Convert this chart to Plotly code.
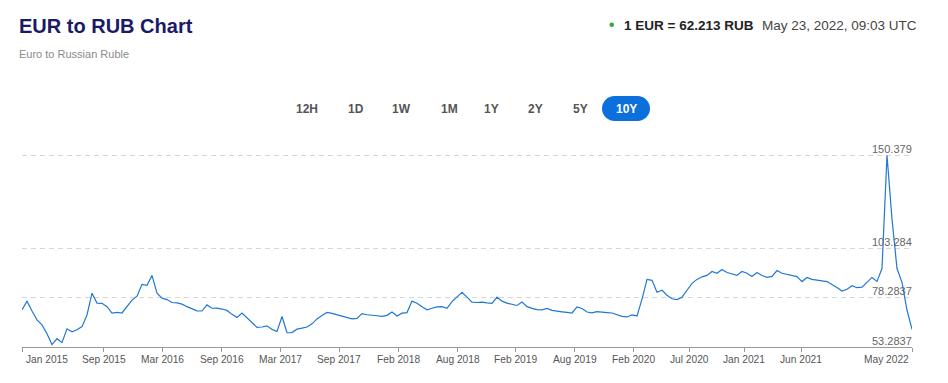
import plotly.graph_objects as go

# ---------------- data ----------------
rates = [
    72.1, 76.5, 71.5, 67.0, 64.5, 60.0, 54.5, 57.5, 55.5, 62.5,
    61.0, 62.0, 63.6, 69.5, 80.5, 75.5, 75.4, 73.7, 70.4, 70.8,
    70.5, 73.5, 77.0, 79.0, 85.0, 84.5, 89.5, 80.5, 78.0, 77.3,
    75.8, 75.6, 75.0, 73.7, 72.6, 71.6, 71.5, 74.6, 72.9, 73.0,
    72.5, 71.8, 69.8, 68.2, 70.5, 68.0, 65.5, 63.2, 63.4, 64.0,
    62.2, 61.1, 68.7, 60.5, 60.6, 62.3, 62.8, 63.4, 65.0, 67.5,
    69.2, 70.8, 70.3, 69.6, 68.9, 68.1, 67.5, 67.8, 70.2, 69.6,
    69.5, 69.1, 68.8, 69.3, 71.0, 69.0, 70.4, 70.7, 76.5, 75.4,
    73.6, 72.1, 72.9, 73.6, 73.7, 72.9, 76.3, 78.8, 81.0, 78.5,
    76.0, 75.8, 76.0, 75.6, 75.4, 78.5, 76.5, 75.5, 74.8, 74.3,
    76.0, 73.7, 72.8, 72.2, 72.1, 72.8, 71.8, 71.6, 71.1, 70.8,
    70.5, 73.6, 72.8, 71.0, 70.6, 71.2, 70.8, 70.7, 70.5, 69.8,
    68.8, 68.5, 69.5, 69.0, 77.5, 87.5, 87.0, 81.0, 82.0, 79.5,
    77.7, 77.3, 78.5, 82.0, 85.5, 87.5, 88.8, 89.5, 91.5, 90.6,
    92.5, 91.0, 90.3, 89.5, 91.5, 90.6, 89.0, 91.0, 89.5, 88.5,
    89.0, 92.0, 90.6, 90.0, 89.6, 88.9, 86.4, 88.5, 87.5, 87.0,
    86.8, 86.4, 85.0, 83.4, 81.6, 82.5, 84.3, 83.3, 83.6, 85.8,
    88.5, 86.5, 93.0, 150.379, 118.0, 93.0, 86.0, 72.0, 62.213,
]
idx = list(range(len(rates)))

tick_pos = [0, 16.3, 28.1, 39.9, 51.7, 63.4, 75.2, 87.1, 98.7, 110.5,
            122.3, 133.4, 144.4, 155.8, 178]
tick_text = ["Jan 2015", "Sep 2015", "Mar 2016", "Sep 2016", "Mar 2017",
             "Sep 2017", "Feb 2018", "Aug 2018", "Feb 2019", "Aug 2019",
             "Feb 2020", "Jul 2020", "Jan 2021", "Jun 2021", "May 2022"]

y_ticks = [53.2837, 78.2837, 103.284, 150.379]
y_labels = ["53.2837", "78.2837", "103.284", "150.379"]

ranges = ["12H", "1D", "1W", "1M", "1Y", "2Y", "5Y", "10Y"]
range_x = [307, 356, 401, 449, 491, 535, 580, 626]

# ---------------- layout geometry (page pixels) ----------------
OFF = 8                      # default body margin of the html page
PAGE_W, PAGE_H = 948, 383
W, H = PAGE_W - OFF, PAGE_H - OFF
PLOT_L, PLOT_R, PLOT_T, PLOT_B = 22, 912, 150, 347   # in page pixels
L = PLOT_L - OFF
T = PLOT_T - OFF
R = W - (PLOT_R - OFF)
B = H - (PLOT_B - OFF)
PW = PLOT_R - PLOT_L
PH = PLOT_B - PLOT_T
FONT = "Liberation Sans, Arial, sans-serif"


def px(x):
    return (x - PLOT_L) / PW


def py(y):
    return (PLOT_B - y) / PH


fig = go.Figure()
fig.add_trace(go.Scatter(
    x=idx, y=rates, mode="lines",
    line=dict(color="#2078d4", width=1.2),
    hoverinfo="skip", showlegend=False, cliponaxis=False,
))

annotations = []
annotations.append(dict(x=px(17), y=py(26), xref="paper", yref="paper",
                        text="<b>EUR to RUB Chart</b>", showarrow=False,
                        xanchor="left", yanchor="middle",
                        font=dict(family=FONT, size=20, color="#1a1a66")))
annotations.append(dict(x=px(17), y=py(54), xref="paper", yref="paper",
                        text="Euro to Russian Ruble", showarrow=False,
                        xanchor="left", yanchor="middle",
                        font=dict(family=FONT, size=11, color="#8a8a8a")))
annotations.append(dict(x=px(622), y=py(25), xref="paper", yref="paper",
                        text="<b>1 EUR = 62.213 RUB</b>", showarrow=False,
                        xanchor="left", yanchor="middle",
                        font=dict(family=FONT, size=13.5, color="#222222")))
annotations.append(dict(x=px(760), y=py(25), xref="paper", yref="paper",
                        text="May 23, 2022, 09:03 UTC", showarrow=False,
                        xanchor="left", yanchor="middle",
                        font=dict(family=FONT, size=13.5, color="#444444")))
for lab, cx in zip(ranges, range_x):
    annotations.append(dict(x=px(cx), y=py(108.5), xref="paper", yref="paper",
                            text="<b>%s</b>" % lab, showarrow=False,
                            xanchor="center", yanchor="middle",
                            font=dict(family=FONT, size=12,
                                      color="#ffffff" if lab == "10Y" else "#555555")))
# y labels (above their gridlines, right aligned)
for v, lab in zip(y_ticks, y_labels):
    annotations.append(dict(x=px(914), y=v, xref="paper", yref="y",
                            text=lab, showarrow=False,
                            xanchor="right", yanchor="middle", yshift=6.5,
                            font=dict(family=FONT, size=11, color="#666666")))
# x labels (first/last justified inside the plot width)
n_ticks = len(tick_pos)
for k, (pos, lab) in enumerate(zip(tick_pos, tick_text)):
    if k == 0:
        anchor, shift = "left", 2
    elif k == n_ticks - 1:
        anchor, shift = "right", -1
    else:
        anchor, shift = "center", 0
    annotations.append(dict(x=pos, y=py(359), xref="x", yref="paper",
                            text=lab, showarrow=False, xshift=shift,
                            xanchor=anchor, yanchor="middle",
                            font=dict(family=FONT, size=10.2, color="#555555")))

shapes = []
shapes.append(dict(type="circle", xref="paper", yref="paper",
                   x0=px(609.5), x1=px(614), y0=py(22.5), y1=py(27),
                   fillcolor="#2eaa3a", line=dict(width=0)))
pill_l, pill_r, pill_t, pill_b = 602, 650, 96, 121
rad = (pill_b - pill_t) / 2
blue = "#0b6fdc"
shapes.append(dict(type="circle", xref="paper", yref="paper",
                   x0=px(pill_l), x1=px(pill_l + 2 * rad),
                   y0=py(pill_b), y1=py(pill_t),
                   fillcolor=blue, line=dict(width=0), layer="below"))
shapes.append(dict(type="circle", xref="paper", yref="paper",
                   x0=px(pill_r - 2 * rad), x1=px(pill_r),
                   y0=py(pill_b), y1=py(pill_t),
                   fillcolor=blue, line=dict(width=0), layer="below"))
shapes.append(dict(type="rect", xref="paper", yref="paper",
                   x0=px(pill_l + rad), x1=px(pill_r - rad),
                   y0=py(pill_b), y1=py(pill_t),
                   fillcolor=blue, line=dict(width=0), layer="below"))

fig.update_layout(
    width=W, height=H,
    margin=dict(l=L, r=R, t=T, b=B, pad=0, autoexpand=False),
    paper_bgcolor="#ffffff", plot_bgcolor="#ffffff",
    font=dict(family=FONT),
    annotations=annotations,
    shapes=shapes,
    xaxis=dict(
        range=[0, len(rates) - 1], tickmode="array",
        tickvals=tick_pos, showticklabels=False,
        ticks="outside", ticklen=4, tickcolor="#999999", tickwidth=1,
        showline=True, linecolor="#999999", linewidth=1,
        showgrid=False, zeroline=False, automargin=False,
        fixedrange=True,
    ),
    yaxis=dict(
        range=[53.2837, 153], tickmode="array", tickvals=y_ticks[1:],
        showticklabels=False, ticks="", automargin=False,
        showgrid=True, gridcolor="#d6d6d6", gridwidth=1, griddash="5px,4px",
        zeroline=False, showline=False, fixedrange=True,
    ),
)

fig.write_html("out.html", config={"displayModeBar": False})
